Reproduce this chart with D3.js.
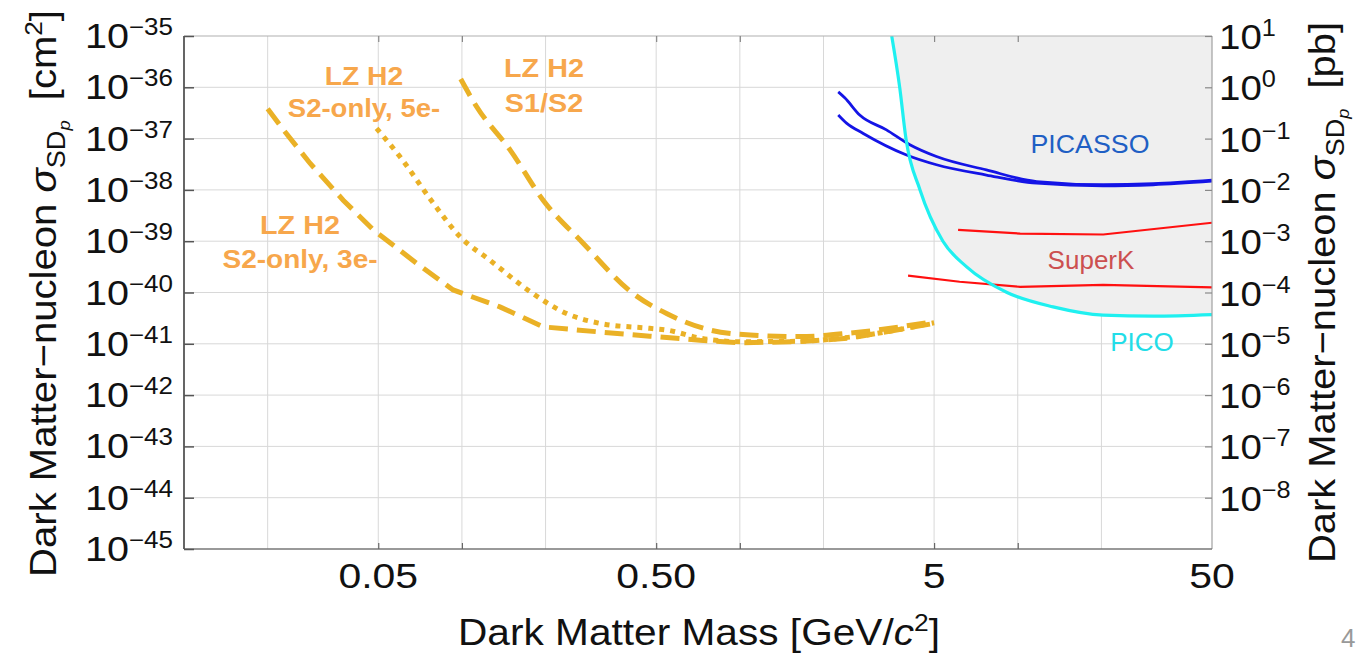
<!DOCTYPE html>
<html><head><meta charset="utf-8">
<script src="https://cdn.jsdelivr.net/npm/d3@7"></script>
<style>
body{margin:0;background:#fff;}
text{font-family:"Liberation Sans",Arial,Helvetica,sans-serif;}
</style></head>
<body>
<script>
// ---- data ----
const xTickValues = [0.05, 0.5, 5, 50];
const xTickLabels = ["0.05", "0.50", "5", "50"];
const xGridValues = [0.02, 0.05, 0.1, 0.2, 0.5, 1, 2, 5, 10, 20];
const xMinorTicks = [0.05, 0.1, 0.5, 1, 5, 10];
const leftExponents = [-35, -36, -37, -38, -39, -40, -41, -42, -43, -44, -45];
const rightExponents = [1, 0, -1, -2, -3, -4, -5, -6, -7, -8];

const s2only3eMass = [0.02, 0.0228, 0.0284, 0.0374, 0.048, 0.0687, 0.093, 0.137, 0.196, 0.313, 0.474, 0.718, 1.0, 1.64, 2.49, 5.0];
const s2only3eSigma = [3.8e-37, 1.48e-37, 3.31e-38, 6.31e-39, 1.66e-39, 3.72e-40, 1.12e-40, 5.25e-41, 2.14e-41, 1.70e-41, 1.41e-41, 1.17e-41, 1.05e-41, 1.10e-41, 1.29e-41, 2.5e-41];

const s2only5eMass = [0.0493, 0.0598, 0.0789, 0.0984, 0.126, 0.18, 0.238, 0.313, 0.474, 0.545, 0.718, 1.0, 1.64, 2.49, 5.0];
const s2only5eSigma = [1.58e-37, 4.47e-38, 5.5e-39, 1.23e-39, 4.27e-40, 9.55e-41, 3.89e-41, 2.51e-41, 2.0e-41, 1.86e-41, 1.29e-41, 1.10e-41, 1.12e-41, 1.35e-41, 2.57e-41];

const s1s2Mass = [0.099, 0.113, 0.149, 0.196, 0.273, 0.413, 0.545, 0.78, 1.09, 1.64, 2.49, 5.0];
const s1s2Sigma = [1.45e-36, 4.17e-37, 6.03e-38, 6.31e-39, 9.12e-40, 9.55e-41, 3.89e-41, 1.86e-41, 1.48e-41, 1.38e-41, 1.62e-41, 2.7e-41];

const picoMass = [3.52, 3.76, 3.96, 4.45, 5.38, 6.55, 9.15, 13.4, 20.3, 30.7, 50];
const picoSigma = [1e-35, 1e-36, 1e-37, 1e-38, 1e-39, 3.16e-40, 1e-40, 5.25e-41, 3.63e-41, 3.47e-41, 3.72e-41];

const picassoAMass = [2.26, 2.39, 2.70, 3.37, 4.09, 5.10, 7.71, 11.7, 20.3, 30.7, 50];
const picassoASigma = [8.13e-37, 6.17e-37, 2.88e-37, 1.48e-37, 7.59e-38, 4.47e-38, 2.45e-38, 1.45e-38, 1.26e-38, 1.32e-38, 1.55e-38];
const picassoBMass = [2.26, 2.42, 2.78, 3.98, 5.10, 7.71, 11.7, 20.3, 30.7, 50];
const picassoBSigma = [2.88e-37, 2.0e-37, 1.26e-37, 4.79e-38, 3.09e-38, 1.95e-38, 1.35e-38, 1.20e-38, 1.26e-38, 1.48e-38];

const superkAMass = [6.10, 10.2, 20.3, 50];
const superkASigma = [1.66e-39, 1.41e-39, 1.35e-39, 2.29e-39];
const superkBMass = [4.03, 6.18, 10.2, 20.3, 50];
const superkBSigma = [2.14e-40, 1.62e-40, 1.29e-40, 1.41e-40, 1.26e-40];

// ---- drawing ----
const W = 1363, H = 653;
const svg = d3.select("body").append("svg").attr("width", W).attr("height", H);
const L = 184, R = 1212, T = 36, B = 549;
const x = d3.scaleLog().domain([0.01, 50]).range([L, R]);
const y = d3.scaleLog().domain([1e-45, 1e-35]).range([B, T]);
const yR = d3.scaleLog().domain([1e-9, 1e1]).range([B, T]);

// widen text horizontally (the reference text is slightly stretched)
function stretch(sel, k) {
  sel.each(function () {
    const w = this.getComputedTextLength();
    d3.select(this).attr("textLength", w * k).attr("lengthAdjust", "spacingAndGlyphs");
  });
}

svg.append("defs").append("clipPath").attr("id", "clip")
  .append("rect").attr("x", L).attr("y", T).attr("width", R - L).attr("height", B - T);

// grid
const grid = svg.append("g");
grid.selectAll("line.vg").data(xGridValues).join("line")
  .attr("x1", d => x(d)).attr("x2", d => x(d)).attr("y1", T).attr("y2", B)
  .attr("stroke", "#d8d8d8").attr("stroke-width", 1);
grid.selectAll("line.hg").data(leftExponents.slice(1, -1)).join("line")
  .attr("x1", L).attr("x2", R).attr("y1", d => y(Math.pow(10, d))).attr("y2", d => y(Math.pow(10, d)))
  .attr("stroke", "#d8d8d8").attr("stroke-width", 1);

const plot = svg.append("g").attr("clip-path", "url(#clip)");
const zip = (ms, ss) => ms.map((m, i) => [m, ss[i]]);

// shaded excluded region
const area = d3.area().x(d => x(d[0])).y0(T).y1(d => y(d[1])).curve(d3.curveMonotoneX);
plot.append("path").datum(zip(picoMass, picoSigma)).attr("d", area).attr("fill", "#efefef");

const smooth = d3.line().x(d => x(d[0])).y(d => y(d[1])).curve(d3.curveMonotoneX);
const straight = d3.line().x(d => x(d[0])).y(d => y(d[1]));

const gold = "#eab126";
plot.append("path").datum(zip(s2only3eMass, s2only3eSigma)).attr("d", straight)
  .attr("fill", "none").attr("stroke", gold).attr("stroke-width", 5).attr("stroke-dasharray", "19,9");
plot.append("path").datum(zip(s2only5eMass, s2only5eSigma)).attr("d", smooth)
  .attr("fill", "none").attr("stroke", gold).attr("stroke-width", 5).attr("stroke-dasharray", "5,6");
plot.append("path").datum(zip(s1s2Mass, s1s2Sigma)).attr("d", smooth)
  .attr("fill", "none").attr("stroke", gold).attr("stroke-width", 5).attr("stroke-dasharray", "19,9");

plot.append("path").datum(zip(superkAMass, superkASigma)).attr("d", straight)
  .attr("fill", "none").attr("stroke", "#ff1010").attr("stroke-width", 2.2);
plot.append("path").datum(zip(superkBMass, superkBSigma)).attr("d", straight)
  .attr("fill", "none").attr("stroke", "#ff1010").attr("stroke-width", 2.2);

plot.append("path").datum(zip(picassoAMass, picassoASigma)).attr("d", smooth)
  .attr("fill", "none").attr("stroke", "#1414e6").attr("stroke-width", 2.8);
plot.append("path").datum(zip(picassoBMass, picassoBSigma)).attr("d", smooth)
  .attr("fill", "none").attr("stroke", "#1414e6").attr("stroke-width", 2.8);

plot.append("path").datum(zip(picoMass, picoSigma)).attr("d", smooth)
  .attr("fill", "none").attr("stroke", "#1ff0f0").attr("stroke-width", 3.2);

// frame
svg.append("line").attr("x1", L).attr("x2", R).attr("y1", T).attr("y2", T).attr("stroke", "#b0b0b0").attr("stroke-width", 1.2);
svg.append("line").attr("x1", R).attr("x2", R).attr("y1", T).attr("y2", B).attr("stroke", "#a0a0a0").attr("stroke-width", 1.2);
svg.append("line").attr("x1", L).attr("x2", R).attr("y1", B).attr("y2", B).attr("stroke", "#777").attr("stroke-width", 1.6);
svg.append("line").attr("x1", L).attr("x2", L).attr("y1", T).attr("y2", B).attr("stroke", "#555").attr("stroke-width", 1.8);

// axes tick marks (inward)
const leftVals = leftExponents.map(e => Math.pow(10, e));
const rightVals = rightExponents.map(e => Math.pow(10, e));
const ax = d3.axisLeft(y).tickValues(leftVals).tickSize(-10).tickFormat("");
svg.append("g").attr("transform", `translate(${L},0)`).call(ax)
  .call(g => { g.select(".domain").remove(); g.selectAll("line").attr("stroke", "#555").attr("stroke-width", 1.5); });
const axR = d3.axisRight(yR).tickValues(rightVals).tickSize(-7).tickFormat("");
svg.append("g").attr("transform", `translate(${R},0)`).call(axR)
  .call(g => { g.select(".domain").remove(); g.selectAll("line").attr("stroke", "#888").attr("stroke-width", 1.2); });
const axB = d3.axisBottom(x).tickValues(xMinorTicks).tickSize(-6).tickFormat("");
svg.append("g").attr("transform", `translate(0,${B})`).call(axB)
  .call(g => { g.select(".domain").remove(); g.selectAll("line").attr("stroke", "#666").attr("stroke-width", 1.2); });
const axT = d3.axisTop(x).tickValues(xMinorTicks).tickSize(-6).tickFormat("");
svg.append("g").attr("transform", `translate(0,${T})`).call(axT)
  .call(g => { g.select(".domain").remove(); g.selectAll("line").attr("stroke", "#888").attr("stroke-width", 1.2); });

// tick labels
const minus = "\u2212";
const fmtExp = e => (e < 0 ? minus + Math.abs(e) : String(e));
function powLabel(sel, anchor) {
  sel.attr("text-anchor", anchor).attr("font-size", 35).attr("fill", "#111");
  sel.append("tspan").text("10");
  sel.append("tspan").attr("font-size", 23).attr("dy", -13).text(d => fmtExp(d));
}
svg.append("g").selectAll("text").data(leftExponents).join("text")
  .attr("x", 173).attr("y", d => y(Math.pow(10, d)) + 12).call(powLabel, "end").call(stretch, 1.13);
svg.append("g").selectAll("text").data(rightExponents).join("text")
  .attr("x", 1219).attr("y", d => yR(Math.pow(10, d)) + 13).call(powLabel, "start").call(stretch, 1.1);
svg.append("g").selectAll("text").data(xTickValues).join("text")
  .attr("x", d => x(d)).attr("y", 588).attr("text-anchor", "middle")
  .attr("font-size", 35).attr("fill", "#111").text((d, i) => xTickLabels[i]).call(stretch, 1.17);

// axis titles
const xt = svg.append("text").attr("x", 699).attr("y", 645).attr("text-anchor", "middle")
  .attr("font-size", 37).attr("fill", "#111")
  .attr("textLength", 482).attr("lengthAdjust", "spacingAndGlyphs");
xt.append("tspan").text("Dark Matter Mass [GeV/");
xt.append("tspan").attr("font-style", "italic").text("c");
xt.append("tspan").attr("font-size", 24).attr("dy", -14).text("2");
xt.append("tspan").attr("dy", 14).text("]");

function yTitle(g, unit, sup) {
  g.attr("text-anchor", "middle").attr("font-size", 37).attr("fill", "#111");
  g.append("tspan").text("Dark Matter" + minus + "nucleon ");
  g.append("tspan").attr("font-style", "italic").text("\u03C3");
  g.append("tspan").attr("font-size", 25).attr("dy", 9).text("SD");
  g.append("tspan").attr("font-size", 17).attr("font-style", "italic").attr("dy", 5).text("p");
  g.append("tspan").attr("dy", -14).text("\u2002[" + unit);
  if (sup) {
    g.append("tspan").attr("font-size", 24).attr("dy", -14).text(sup);
    g.append("tspan").attr("dy", 14).text("]");
  } else {
    g.append("tspan").text("]");
  }
}
svg.append("text").attr("transform", "translate(56,293.5) rotate(-90)")
  .attr("textLength", 567).attr("lengthAdjust", "spacingAndGlyphs").call(yTitle, "cm", "2");
svg.append("text").attr("transform", "translate(1335,292.5) rotate(-90)")
  .attr("textLength", 541).attr("lengthAdjust", "spacingAndGlyphs").call(yTitle, "pb", null);

// curve labels
const orange = "#f7a74c";
const lab = (tx, ty, str, opts) => svg.append("text").attr("x", tx).attr("y", ty).attr("text-anchor", "middle")
    .attr("font-size", opts.size).attr("font-weight", opts.bold ? "bold" : "normal")
    .attr("fill", opts.color).text(str).call(stretch, opts.k);
lab(364, 85, "LZ H2", {size: 25, bold: true, color: orange, k: 1.13});
lab(364, 117, "S2-only, 5e-", {size: 25, bold: true, color: orange, k: 1.1});
lab(544, 77, "LZ H2", {size: 25, bold: true, color: orange, k: 1.15});
lab(544, 112, "S1/S2", {size: 25, bold: true, color: orange, k: 1.15});
lab(300, 234, "LZ H2", {size: 25, bold: true, color: orange, k: 1.15});
lab(300, 268, "S2-only, 3e-", {size: 25, bold: true, color: orange, k: 1.12});
lab(1090, 153, "PICASSO", {size: 25, color: "#1f5fc4", k: 1.07});
lab(1091, 269, "SuperK", {size: 25, color: "#cc5050", k: 1.04});
lab(1142, 351, "PICO", {size: 25, color: "#22dde8", k: 1.04});

svg.append("text").attr("x", 1341).attr("y", 647).attr("font-size", 26).attr("fill", "#999").text("4");
</script>
</body></html>
